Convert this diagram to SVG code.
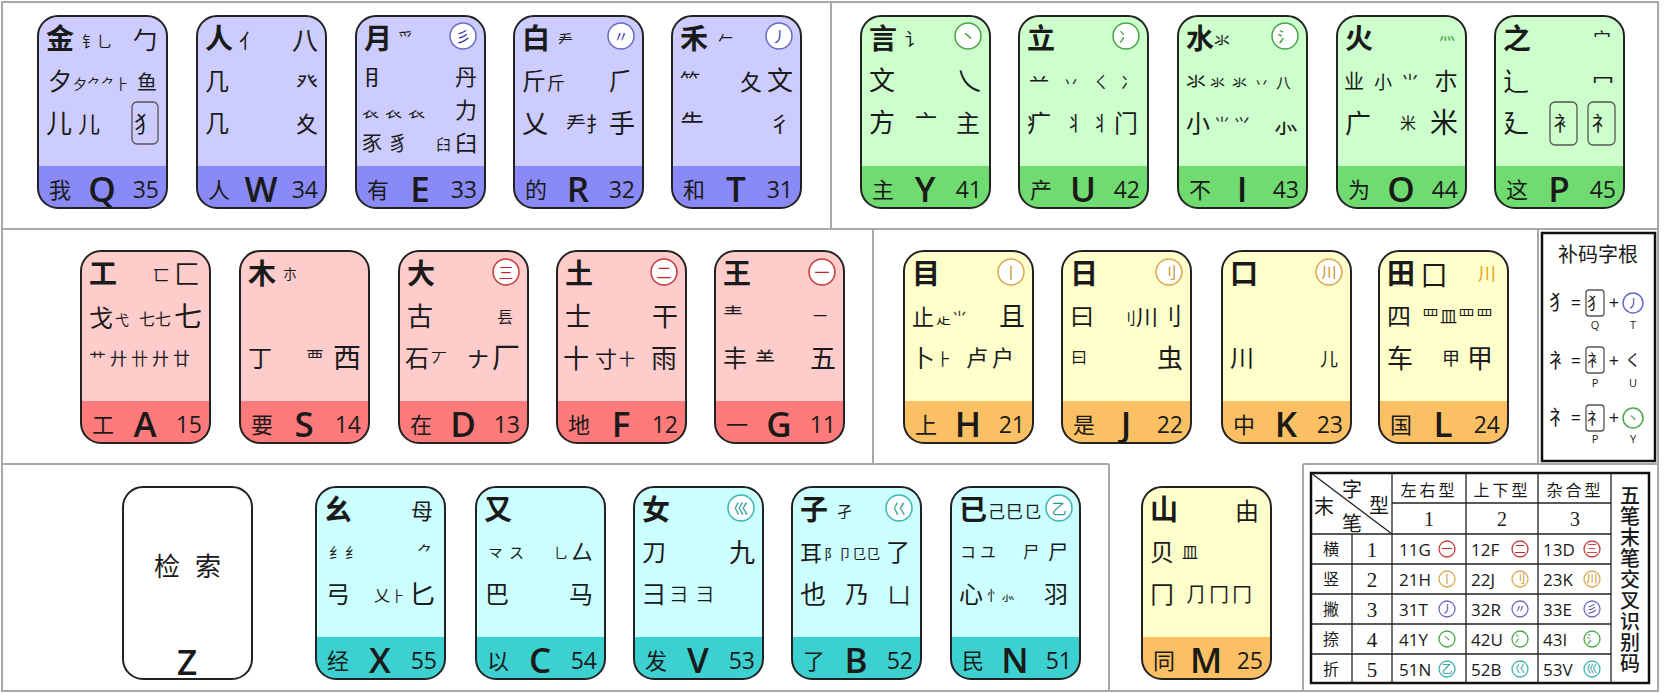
<svg xmlns="http://www.w3.org/2000/svg" width="1664" height="693" viewBox="0 0 1664 693">
<style>
text{font-family:"Noto Sans CJK SC","Noto Sans CJK JP",sans-serif;fill:#1a1a1a}
.m{font-size:28px;font-weight:700}
.t13{font-size:13px}.t14{font-size:14px}.t15{font-size:15px}.t16{font-size:16px}.t17{font-size:17px}.t18{font-size:18px}.t20{font-size:20px}.t22{font-size:22px}.t24{font-size:24px}.t26{font-size:26px}.t28{font-size:28px}
.e{text-anchor:end}.c{text-anchor:middle}
.bc{font-size:22px}
.bl{font-family:"Open Sans","Noto Sans",sans-serif;font-size:35px;font-weight:600;text-anchor:middle}
.bn{font-family:"Open Sans","Noto Sans",sans-serif;font-size:23px;text-anchor:end}
.frame{fill:none;stroke:#222;stroke-width:2}
.pu{fill:#ccccff}.puB{fill:#8a8af6}
.gr{fill:#ccffcc}.grB{fill:#70db70}
.rd{fill:#ffcccc}.rdB{fill:#ff7b7b}
.ye{fill:#ffffcc}.yeB{fill:#fbc064}
.cy{fill:#ccffff}.cyB{fill:#3cd0d0}
.wh{fill:#fff}
.ico circle{fill:#fff;stroke-width:1.5}
.ico text{font-size:15px;text-anchor:middle}
.icP circle{stroke:#6a6ac8}.icP text{fill:#3a3aa8}
.icG circle{stroke:#48a848}.icG text{fill:#2f8f2f}
.icR circle{stroke:#cc3a3a}.icR text{fill:#c02828}
.icY circle{stroke:#dca850}.icY text{fill:#c88a20}
.icC circle{stroke:#3cb4b4}.icC text{fill:#2a9a9a}
.bx{fill:none;stroke:#555;stroke-width:1.3}
.pl{stroke:#a8a8a8;stroke-width:2;fill:none}
.tb{stroke:#222;stroke-width:1.3;fill:none}
.lat{font-family:"Open Sans","Noto Sans",sans-serif}
.ser{font-family:"Liberation Serif",serif}
.tc text{font-size:11px;text-anchor:middle}
.tc circle{fill:#fff;stroke-width:1.3}
</style>
<defs>
<rect id="kf" width="129" height="192" rx="20"/>
<path id="kb" d="M0,150H129V172A20,20 0 0 1 109,192H20A20,20 0 0 1 0,172Z"/>
</defs>
<rect width="1664" height="693" fill="#fff"/>

<g id="panels">
<rect class="pl" x="2" y="2" width="1656" height="689"/>
<line class="pl" x1="2" y1="229" x2="1658" y2="229"/>
<line class="pl" x1="831" y1="2" x2="831" y2="229"/>
<line class="pl" x1="873" y1="229" x2="873" y2="464"/>
<line class="pl" x1="1538" y1="229" x2="1538" y2="464"/>
<line class="pl" x1="2" y1="464" x2="1109" y2="464"/>
<line class="pl" x1="1109" y1="464" x2="1109" y2="691"/>
<line class="pl" x1="1303" y1="464" x2="1658" y2="464"/>
<line class="pl" x1="1303" y1="464" x2="1303" y2="691"/>
</g>

<!-- Top row purple -->
<g id="key-Q" transform="translate(38,16)">
<use href="#kf" class="pu"/><use href="#kb" class="puB"/><use href="#kf" class="frame"/>
<text class="m" x="8" y="33">金</text><text class="t15" x="44" y="31">钅乚</text><text class="t24 e" x="119" y="33">勹</text>
<text class="t24" x="10" y="74">夕</text><text class="t14" x="35" y="73">夕⺈⺈⺊</text><text class="t20 e" x="119" y="74">鱼</text>
<text class="t26" x="8" y="117">儿</text><text class="t22" x="40" y="116">儿</text>
<rect class="bx" x="94" y="86" width="26" height="42" rx="5"/><text class="t22 c" x="107" y="116">犭</text>
<text class="bc" x="11" y="182">我</text><text class="bl" x="64" y="186">Q</text><text class="bn" x="121" y="182">35</text>
</g>
<g id="key-W" transform="translate(197,16)">
<use href="#kf" class="pu"/><use href="#kb" class="puB"/><use href="#kf" class="frame"/>
<text class="m" x="8" y="33">人</text><text class="t20" x="42" y="33">亻</text><text class="t26 e" x="121" y="34">八</text>
<text class="t24" x="8" y="74">几</text><text class="t22 e" x="121" y="74">癶</text>
<text class="t24" x="8" y="116">几</text><text class="t22 e" x="121" y="116">夊</text>
<text class="bc" x="11" y="182">人</text><text class="bl" x="64" y="186">W</text><text class="bn" x="121" y="182">34</text>
</g>
<g id="key-E" transform="translate(356,16)">
<use href="#kf" class="pu"/><use href="#kb" class="puB"/><use href="#kf" class="frame"/>
<text class="m" x="8" y="33">月</text><text class="t15" x="42" y="28">爫</text>
<g class="ico icP"><circle cx="107" cy="20" r="13"/><text x="107" y="26">彡</text></g>
<text class="t22" x="8" y="69">⺝</text><text class="t22 e" x="121" y="69">丹</text>
<text class="t17" x="6" y="101" letter-spacing="6">𧘇𧘇𧘇</text><text class="t22 e" x="121" y="102">力</text>
<text class="t20" x="6" y="135" letter-spacing="6">豕豸</text><text class="t15" x="80" y="134">⺽</text><text class="t22 e" x="121" y="135">臼</text>
<text class="bc" x="11" y="182">有</text><text class="bl" x="64" y="186">E</text><text class="bn" x="121" y="182">33</text>
</g>
<g id="key-R" transform="translate(514,16)">
<use href="#kf" class="pu"/><use href="#kb" class="puB"/><use href="#kf" class="frame"/>
<text class="m" x="8" y="33">白</text><text class="t15" x="44" y="30">龵</text>
<g class="ico icP"><circle cx="107" cy="20" r="13"/><text x="107" y="26">〃</text></g>
<text class="t24" x="8" y="74">斤</text><text class="t18" x="33" y="74">斤</text><text class="t24 e" x="119" y="74">⺁</text>
<text class="t26" x="8" y="117">乂</text><text class="t20" x="52" y="116">龵扌</text><text class="t26 e" x="121" y="117">手</text>
<text class="bc" x="11" y="182">的</text><text class="bl" x="64" y="186">R</text><text class="bn" x="121" y="182">32</text>
</g>
<g id="key-T" transform="translate(672,16)">
<use href="#kf" class="pu"/><use href="#kb" class="puB"/><use href="#kf" class="frame"/>
<text class="m" x="8" y="33">禾</text><text class="t15" x="46" y="28">𠂉</text>
<g class="ico icP"><circle cx="107" cy="20" r="13"/><text x="107" y="26">丿</text></g>
<text class="t20" x="8" y="73">⺮</text><text class="t22" x="68" y="74">夂</text><text class="t26 e" x="121" y="74">文</text>
<text class="t24" x="8" y="116">⺧</text><text class="t22 e" x="119" y="116">彳</text>
<text class="bc" x="11" y="182">和</text><text class="bl" x="64" y="186">T</text><text class="bn" x="121" y="182">31</text>
</g>

<!-- Top row green -->
<g id="key-Y" transform="translate(861,16)">
<use href="#kf" class="gr"/><use href="#kb" class="grB"/><use href="#kf" class="frame"/>
<text class="m" x="8" y="33">言</text><text class="t18" x="44" y="30">讠</text>
<g class="ico icG"><circle cx="107" cy="20" r="13"/><text x="107" y="26">丶</text></g>
<text class="t26" x="8" y="74">文</text><text class="t26 e" x="121" y="74">乀</text>
<text class="t26" x="8" y="116">方</text><text class="t22" x="54" y="114">亠</text><text class="t24 e" x="119" y="116">主</text>
<text class="bc" x="11" y="182">主</text><text class="bl" x="64" y="186">Y</text><text class="bn" x="121" y="182">41</text>
</g>
<g id="key-U" transform="translate(1019,16)">
<use href="#kf" class="gr"/><use href="#kb" class="grB"/><use href="#kf" class="frame"/>
<text class="m" x="8" y="33">立</text>
<g class="ico icG"><circle cx="107" cy="20" r="13"/><text x="107" y="26">冫</text></g>
<text class="t20" x="10" y="72">䒑</text><text class="t16" x="44" y="72">丷</text><text class="t16" x="74" y="72">ㄑ</text><text class="t16" x="102" y="72">冫</text>
<text class="t24" x="8" y="116">疒</text><text class="t20" x="46" y="115">丬</text><text class="t20" x="72" y="115">丬</text><text class="t24 e" x="119" y="116">门</text>
<text class="bc" x="11" y="182">产</text><text class="bl" x="64" y="186">U</text><text class="bn" x="121" y="182">42</text>
</g>
<g id="key-I" transform="translate(1178,16)">
<use href="#kf" class="gr"/><use href="#kb" class="grB"/><use href="#kf" class="frame"/>
<text class="m" x="8" y="33">水</text><text class="t16" x="36" y="30">氺</text>
<g class="ico icG"><circle cx="107" cy="20" r="13"/><text x="107" y="26">氵</text></g>
<text class="t20" x="8" y="73">氺</text><text class="t15" x="32" y="72" letter-spacing="7">氺氺丷八</text>
<text class="t24" x="8" y="116">小</text><text class="t16" x="36" y="114" letter-spacing="4">⺌⺍</text><text class="t26 e" x="121" y="117">⺗</text>
<text class="bc" x="11" y="182">不</text><text class="bl" x="64" y="186">I</text><text class="bn" x="121" y="182">43</text>
</g>
<g id="key-O" transform="translate(1337,16)">
<use href="#kf" class="gr"/><use href="#kb" class="grB"/><use href="#kf" class="frame"/>
<text class="m" x="8" y="33">火</text><text class="t16 e" x="118" y="24" style="fill:#3a9a3a">灬</text>
<text class="t20" x="7" y="73">业</text><text class="t18" x="37" y="73">小</text><text class="t18" x="64" y="73">⺌</text><text class="t24 e" x="121" y="74">朩</text>
<text class="t26" x="8" y="117">广</text><text class="t16" x="63" y="113">米</text><text class="t28 e" x="121" y="117">米</text>
<text class="bc" x="11" y="182">为</text><text class="bl" x="64" y="186">O</text><text class="bn" x="121" y="182">44</text>
</g>
<g id="key-P" transform="translate(1495,16)">
<use href="#kf" class="gr"/><use href="#kb" class="grB"/><use href="#kf" class="frame"/>
<text class="m" x="8" y="33">之</text><text class="t18 e" x="116" y="30">宀</text>
<text class="t26" x="8" y="75">辶</text><text class="t22 e" x="119" y="73">冖</text>
<text class="t26" x="8" y="117">廴</text>
<rect class="bx" x="55" y="86" width="27" height="43" rx="5"/><text class="t20 c" x="68.5" y="115">衤</text>
<rect class="bx" x="93" y="86" width="27" height="43" rx="5"/><text class="t20 c" x="106.5" y="115">礻</text>
<text class="bc" x="11" y="182">这</text><text class="bl" x="64" y="186">P</text><text class="bn" x="121" y="182">45</text>
</g>

<!-- Middle row red -->
<g id="key-A" transform="translate(81,251)">
<use href="#kf" class="rd"/><use href="#kb" class="rdB"/><use href="#kf" class="frame"/>
<text class="m" x="8" y="33">工</text><text class="t16" x="72" y="30">匸</text><text class="t26 e" x="119" y="33">匚</text>
<text class="t24" x="8" y="76">戈</text><text class="t14" x="34" y="74">弋</text><text class="t16" x="58" y="74">七七</text><text class="t28 e" x="121" y="76">七</text>
<text class="t17" x="8" y="114" letter-spacing="4">艹廾卄廾廿</text>
<text class="bc" x="11" y="182">工</text><text class="bl" x="64" y="186">A</text><text class="bn" x="121" y="182">15</text>
</g>
<g id="key-S" transform="translate(240,251)">
<use href="#kf" class="rd"/><use href="#kb" class="rdB"/><use href="#kf" class="frame"/>
<text class="m" x="8" y="33">木</text><text class="t14" x="43" y="28">朩</text>
<text class="t24" x="8" y="116">丁</text><text class="t18" x="66" y="114">覀</text><text class="t28 e" x="121" y="117">西</text>
<text class="bc" x="11" y="182">要</text><text class="bl" x="64" y="186">S</text><text class="bn" x="121" y="182">14</text>
</g>
<g id="key-D" transform="translate(399,251)">
<use href="#kf" class="rd"/><use href="#kb" class="rdB"/><use href="#kf" class="frame"/>
<text class="m" x="8" y="33">大</text>
<g class="ico icR"><circle cx="107" cy="21" r="13"/><text x="107" y="27">三</text></g>
<text class="t26" x="8" y="75">古</text><text class="t16 e" x="114" y="72">镸</text>
<text class="t24" x="6" y="116">石</text><text class="t16" x="32" y="113">丆</text><text class="t22" x="68" y="116">ナ</text><text class="t28 e" x="121" y="117">厂</text>
<text class="bc" x="11" y="182">在</text><text class="bl" x="64" y="186">D</text><text class="bn" x="121" y="182">13</text>
</g>
<g id="key-F" transform="translate(557,251)">
<use href="#kf" class="rd"/><use href="#kb" class="rdB"/><use href="#kf" class="frame"/>
<text class="m" x="8" y="33">土</text>
<g class="ico icR"><circle cx="107" cy="21" r="13"/><text x="107" y="27">二</text></g>
<text class="t26" x="8" y="75">士</text><text class="t26 e" x="121" y="75">干</text>
<text class="t26" x="6" y="117">十</text><text class="t22" x="38" y="116">寸</text><text class="t16" x="62" y="114">十</text><text class="t26 e" x="120" y="117">雨</text>
<text class="bc" x="11" y="182">地</text><text class="bl" x="64" y="186">F</text><text class="bn" x="121" y="182">12</text>
</g>
<g id="key-G" transform="translate(715,251)">
<use href="#kf" class="rd"/><use href="#kb" class="rdB"/><use href="#kf" class="frame"/>
<text class="m" x="8" y="33">王</text>
<g class="ico icR"><circle cx="107" cy="21" r="13"/><text x="107" y="27">一</text></g>
<text class="t20" x="8" y="72">龶</text><text class="t14 e" x="112" y="70">一</text>
<text class="t24" x="8" y="116">丰</text><text class="t20" x="40" y="116">⺷</text><text class="t26 e" x="121" y="117">五</text>
<text class="bc" x="11" y="182">一</text><text class="bl" x="64" y="186">G</text><text class="bn" x="121" y="182">11</text>
</g>

<!-- Middle row yellow -->
<g id="key-H" transform="translate(904,251)">
<use href="#kf" class="ye"/><use href="#kb" class="yeB"/><use href="#kf" class="frame"/>
<text class="m" x="8" y="33">目</text>
<g class="ico icY"><circle cx="107" cy="21" r="13"/><text x="107" y="27">丨</text></g>
<text class="t22" x="8" y="74">止</text><text class="t15" x="32" y="72" letter-spacing="1">龰⺌</text><text class="t26 e" x="121" y="75">且</text>
<text class="t24" x="7" y="116">卜</text><text class="t16" x="32" y="114">⺊</text><text class="t22" x="62" y="115" letter-spacing="4">卢户</text>
<text class="bc" x="11" y="182">上</text><text class="bl" x="64" y="186">H</text><text class="bn" x="121" y="182">21</text>
</g>
<g id="key-J" transform="translate(1062,251)">
<use href="#kf" class="ye"/><use href="#kb" class="yeB"/><use href="#kf" class="frame"/>
<text class="m" x="8" y="33">日</text>
<g class="ico icY"><circle cx="107" cy="21" r="13"/><text x="107" y="27">刂</text></g>
<text class="t24" x="8" y="74">曰</text><text class="t16" x="58" y="73">刂</text><text class="t22" x="74" y="74">川</text><text class="t24 e" x="120" y="74">刂</text>
<text class="t16" x="9" y="112">曰</text><text class="t26 e" x="121" y="117">虫</text>
<text class="bc" x="11" y="182">是</text><text class="bl" x="64" y="186">J</text><text class="bn" x="121" y="182">22</text>
</g>
<g id="key-K" transform="translate(1222,251)">
<use href="#kf" class="ye"/><use href="#kb" class="yeB"/><use href="#kf" class="frame"/>
<text class="m" x="8" y="33">口</text>
<g class="ico icY"><circle cx="107" cy="21" r="13"/><text x="107" y="27">川</text></g>
<text class="t24" x="8" y="116">川</text><text class="t18 e" x="116" y="115">儿</text>
<text class="bc" x="11" y="182">中</text><text class="bl" x="64" y="186">K</text><text class="bn" x="121" y="182">23</text>
</g>
<g id="key-L" transform="translate(1379,251)">
<use href="#kf" class="ye"/><use href="#kb" class="yeB"/><use href="#kf" class="frame"/>
<text class="m" x="8" y="33">田</text><text class="t26" x="42" y="34">囗</text><text class="t18 e" x="117" y="29" style="fill:#e8a020">川</text>
<text class="t24" x="8" y="74">四</text><text class="t17" x="43" y="72" letter-spacing="1">罒皿罒罒</text>
<text class="t26" x="8" y="117">车</text><text class="t18" x="63" y="114">甲</text><text class="t26 e" x="114" y="117">甲</text>
<text class="bc" x="11" y="182">国</text><text class="bl" x="64" y="186">L</text><text class="bn" x="121" y="182">24</text>
</g>

<!-- Supplement roots box -->
<g id="bumazigen">
<rect x="1542" y="233" width="113" height="228" fill="none" stroke="#111" stroke-width="2.5"/>
<text class="t20 c" x="1598" y="262">补码字根</text>
<text class="t20 c" x="1559" y="310">犭</text><text class="lat c" x="1576" y="309" font-size="18">=</text>
<rect class="bx" x="1586" y="290" width="18" height="26" rx="3"/><text class="t16 c" x="1595" y="309">犭</text>
<text class="lat c" x="1614" y="309" font-size="18">+</text>
<g class="ico icP"><circle cx="1633" cy="303" r="10"/><text x="1633" y="308" style="font-size:12px">丿</text></g>
<text class="lat c" x="1595" y="329" font-size="11">Q</text><text class="lat c" x="1633" y="329" font-size="11">T</text>
<text class="t20 c" x="1559" y="368">衤</text><text class="lat c" x="1576" y="367" font-size="18">=</text>
<rect class="bx" x="1586" y="347" width="18" height="26" rx="3"/><text class="t16 c" x="1595" y="366">衤</text>
<text class="lat c" x="1614" y="367" font-size="18">+</text><text class="t16 c" x="1633" y="366">く</text>
<text class="lat c" x="1595" y="387" font-size="11">P</text><text class="lat c" x="1633" y="387" font-size="11">U</text>
<text class="t20 c" x="1559" y="425">礻</text><text class="lat c" x="1576" y="424" font-size="18">=</text>
<rect class="bx" x="1586" y="405" width="18" height="26" rx="3"/><text class="t16 c" x="1595" y="424">礻</text>
<text class="lat c" x="1614" y="424" font-size="18">+</text>
<g class="ico icG"><circle cx="1633" cy="418" r="10"/><text x="1633" y="423" style="font-size:12px">丶</text></g>
<text class="lat c" x="1595" y="443" font-size="11">P</text><text class="lat c" x="1633" y="443" font-size="11">Y</text>
</g>

<!-- Bottom row -->
<g id="key-Z" transform="translate(123,487)">
<use href="#kf" class="wh"/><use href="#kf" class="frame"/>
<text class="t26 c" x="44" y="89">检</text><text class="t26 c" x="85" y="89">索</text>
<text class="bl" x="64" y="188">Z</text>
</g>
<g id="key-X" transform="translate(316,487)">
<use href="#kf" class="cy"/><use href="#kb" class="cyB"/><use href="#kf" class="frame"/>
<text class="m" x="8" y="33">幺</text><text class="t22 e" x="117" y="32">母</text>
<text class="t15" x="13" y="71" letter-spacing="1">纟纟</text><text class="t16 e" x="117" y="71">⺈</text>
<text class="t24" x="10" y="116">弓</text><text class="t16" x="58" y="114">乂</text><text class="t14" x="75" y="114">⺊</text><text class="t26 e" x="119" y="117">匕</text>
<text class="bc" x="11" y="182">经</text><text class="bl" x="64" y="186">X</text><text class="bn" x="121" y="182">55</text>
</g>
<g id="key-C" transform="translate(476,487)">
<use href="#kf" class="cy"/><use href="#kb" class="cyB"/><use href="#kf" class="frame"/>
<text class="m" x="8" y="33">又</text>
<text class="t15" x="12" y="71" letter-spacing="6">龴ス</text><text class="t14" x="78" y="71">乚</text><text class="t22 e" x="117" y="73">厶</text>
<text class="t24" x="9" y="116">巴</text><text class="t24 e" x="117" y="116">马</text>
<text class="bc" x="11" y="182">以</text><text class="bl" x="64" y="186">C</text><text class="bn" x="121" y="182">54</text>
</g>
<g id="key-V" transform="translate(634,487)">
<use href="#kf" class="cy"/><use href="#kb" class="cyB"/><use href="#kf" class="frame"/>
<text class="m" x="8" y="33">女</text>
<g class="ico icC"><circle cx="107" cy="21" r="13"/><text x="107" y="27">巛</text></g>
<text class="t24" x="8" y="74">刀</text><text class="t26 e" x="121" y="75">九</text>
<text class="t24" x="8" y="116">彐</text><text class="t18" x="36" y="114" letter-spacing="8">⺕⺕</text>
<text class="bc" x="11" y="182">发</text><text class="bl" x="64" y="186">V</text><text class="bn" x="121" y="182">53</text>
</g>
<g id="key-B" transform="translate(792,487)">
<use href="#kf" class="cy"/><use href="#kb" class="cyB"/><use href="#kf" class="frame"/>
<text class="m" x="8" y="33">子</text><text class="t15" x="45" y="30">孑</text>
<g class="ico icC"><circle cx="107" cy="21" r="13"/><text x="107" y="27">巜</text></g>
<text class="t22" x="8" y="74">耳</text><text class="t14" x="32" y="72">阝卩㔾⺋</text><text class="t24 e" x="118" y="74">了</text>
<text class="t26" x="8" y="117">也</text><text class="t24" x="53" y="116">乃</text><text class="t22 e" x="118" y="116">凵</text>
<text class="bc" x="11" y="182">了</text><text class="bl" x="64" y="186">B</text><text class="bn" x="121" y="182">52</text>
</g>
<g id="key-N" transform="translate(951,487)">
<use href="#kf" class="cy"/><use href="#kb" class="cyB"/><use href="#kf" class="frame"/>
<text class="m" x="8" y="33">已</text><text class="t17" x="37" y="31" letter-spacing="1">己巳⺋</text>
<g class="ico icC"><circle cx="108" cy="21" r="13"/><text x="108" y="27">乙</text></g>
<text class="t16" x="9" y="71" letter-spacing="4">コユ</text><text class="t16" x="72" y="71">尸</text><text class="t20 e" x="117" y="73">尸</text>
<text class="t24" x="8" y="116">心</text><text class="t14" x="36" y="113">忄⺗</text><text class="t24 e" x="117" y="116">羽</text>
<text class="bc" x="11" y="182">民</text><text class="bl" x="64" y="186">N</text><text class="bn" x="121" y="182">51</text>
</g>
<g id="key-M" transform="translate(1142,487)">
<use href="#kf" class="ye"/><use href="#kb" class="yeB"/><use href="#kf" class="frame"/>
<text class="m" x="8" y="33">山</text><text class="t24 e" x="117" y="33">由</text>
<text class="t24" x="8" y="74">贝</text><text class="t16" x="40" y="71">皿</text>
<text class="t24" x="8" y="116">冂</text><text class="t20" x="44" y="115" letter-spacing="3">⺆冂冂</text>
<text class="bc" x="11" y="182">同</text><text class="bl" x="64" y="186">M</text><text class="bn" x="121" y="182">25</text>
</g>

<!-- Identification code table -->
<g id="table">
<rect x="1311" y="473" width="338" height="210" fill="none" stroke="#111" stroke-width="2.5"/>
<line class="tb" x1="1352" y1="534" x2="1352" y2="683"/>
<line class="tb" x1="1392" y1="473" x2="1392" y2="683"/>
<line class="tb" x1="1466" y1="473" x2="1466" y2="683"/>
<line class="tb" x1="1538" y1="473" x2="1538" y2="683"/>
<line class="tb" x1="1611" y1="473" x2="1611" y2="683" stroke-width="2"/>
<line class="tb" x1="1392" y1="503" x2="1611" y2="503"/>
<line class="tb" x1="1311" y1="534" x2="1611" y2="534"/>
<line class="tb" x1="1311" y1="564" x2="1611" y2="564"/>
<line class="tb" x1="1311" y1="594" x2="1611" y2="594"/>
<line class="tb" x1="1311" y1="624" x2="1611" y2="624"/>
<line class="tb" x1="1311" y1="654" x2="1611" y2="654"/>
<line class="tb" x1="1311" y1="473" x2="1392" y2="534"/>
<text class="t20 c" x="1352" y="497">字</text><text class="t20 c" x="1379" y="513">型</text>
<text class="t20 c" x="1324" y="514">末</text><text class="t20 c" x="1352" y="531">笔</text>
<text class="t16 c" x="1429" y="496" letter-spacing="3">左右型</text>
<text class="t16 c" x="1502" y="496" letter-spacing="3">上下型</text>
<text class="t16 c" x="1575" y="496" letter-spacing="3">杂合型</text>
<text class="ser c" x="1429" y="526" font-size="20">1</text>
<text class="ser c" x="1502" y="526" font-size="20">2</text>
<text class="ser c" x="1575" y="526" font-size="20">3</text>
<text class="t16 c" x="1331" y="555">横</text><text class="ser c" x="1372" y="557" font-size="21">1</text>
<text class="t16 c" x="1331" y="585">竖</text><text class="ser c" x="1372" y="587" font-size="21">2</text>
<text class="t16 c" x="1331" y="615">撇</text><text class="ser c" x="1372" y="617" font-size="21">3</text>
<text class="t16 c" x="1331" y="645">捺</text><text class="ser c" x="1372" y="647" font-size="21">4</text>
<text class="t16 c" x="1331" y="675">折</text><text class="ser c" x="1372" y="677" font-size="21">5</text>
<g class="lat" font-size="17">
<text class="lat" x="1399" y="556" font-size="17">11G</text><text class="lat" x="1471" y="556" font-size="17">12F</text><text class="lat" x="1543" y="556" font-size="17">13D</text>
<text class="lat" x="1399" y="586" font-size="17">21H</text><text class="lat" x="1471" y="586" font-size="17">22J</text><text class="lat" x="1543" y="586" font-size="17">23K</text>
<text class="lat" x="1399" y="616" font-size="17">31T</text><text class="lat" x="1471" y="616" font-size="17">32R</text><text class="lat" x="1543" y="616" font-size="17">33E</text>
<text class="lat" x="1399" y="646" font-size="17">41Y</text><text class="lat" x="1471" y="646" font-size="17">42U</text><text class="lat" x="1543" y="646" font-size="17">43I</text>
<text class="lat" x="1399" y="676" font-size="17">51N</text><text class="lat" x="1471" y="676" font-size="17">52B</text><text class="lat" x="1543" y="676" font-size="17">53V</text>
</g>
<g class="tc icR"><circle cx="1447" cy="549" r="8"/><text x="1447" y="553">一</text><circle cx="1520" cy="549" r="8"/><text x="1520" y="553">二</text><circle cx="1592" cy="549" r="8"/><text x="1592" y="553">三</text></g>
<g class="tc icY"><circle cx="1447" cy="579" r="8"/><text x="1447" y="583">丨</text><circle cx="1520" cy="579" r="8"/><text x="1520" y="583">刂</text><circle cx="1592" cy="579" r="8"/><text x="1592" y="583">川</text></g>
<g class="tc icP"><circle cx="1447" cy="609" r="8"/><text x="1447" y="613">丿</text><circle cx="1520" cy="609" r="8"/><text x="1520" y="613">〃</text><circle cx="1592" cy="609" r="8"/><text x="1592" y="613">彡</text></g>
<g class="tc icG"><circle cx="1447" cy="639" r="8"/><text x="1447" y="643">丶</text><circle cx="1520" cy="639" r="8"/><text x="1520" y="643">冫</text><circle cx="1592" cy="639" r="8"/><text x="1592" y="643">氵</text></g>
<g class="tc icC"><circle cx="1447" cy="669" r="8"/><text x="1447" y="673">乙</text><circle cx="1520" cy="669" r="8"/><text x="1520" y="673">巜</text><circle cx="1592" cy="669" r="8"/><text x="1592" y="673">巛</text></g>
<text x="1630" y="485" writing-mode="vertical-rl" font-size="20" font-weight="500" letter-spacing="1">五笔末笔交叉识别码</text>
</g>
</svg>
